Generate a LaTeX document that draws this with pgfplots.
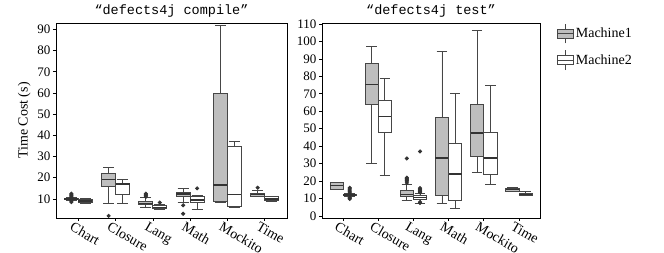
\documentclass[border=0pt]{standalone}
\usepackage{fontspec}
\setmainfont{Liberation Serif}
\newfontfamily\monofont{Liberation Mono}
\usepackage{pgfplots}
\pgfplotsset{compat=1.18}
\usepgfplotslibrary{statistics}
\definecolor{boxgray}{RGB}{190,190,190}
\definecolor{edge}{RGB}{70,70,70}
\pgfplotsset{
  m1/.style={draw=edge, fill=boxgray, line width=0.8pt, mark=*, mark size=1.6pt,
    mark options={draw=black!80, fill=black!80}, boxplot/draw direction=y, boxplot/box extend=0.375, boxplot/whisker extend=0.3},
  m2/.style={draw=edge, fill=white, line width=0.8pt, mark=*, mark size=1.6pt,
    mark options={draw=black!80, fill=black!80}, boxplot/draw direction=y, boxplot/box extend=0.375, boxplot/whisker extend=0.3},
  boxplot/every median/.style={line width=1.2pt, draw=black!80},
  myaxis/.style={
    scale only axis, height=195pt,
    xmin=0.4, xmax=6.6,
    xtick={1,2,3,4,5,6},
    xticklabels={Chart,Closure,Lang,Math,Mockito,Time},
    x tick label style={rotate=-30, anchor=north west, xshift=-7pt, yshift=1pt, font=\fontsize{14}{15}\selectfont},
    y tick label style={font=\fontsize{13}{14}\selectfont, xshift=1pt},
    tick align=outside, major tick length=3pt,
    xtick pos=bottom, ytick pos=left,
    axis line style={line width=0.8pt},
    tick style={line width=0.6pt, black},
    /pgf/number format/assume math mode=true,
    title style={font=\monofont\fontsize{13.5}{14}\selectfont, yshift=-4pt},
  },
}
\begin{document}
\begin{tikzpicture}
\useasboundingbox (-56pt,-34pt) rectangle (608pt,218pt);
\begin{axis}[myaxis, at={(0pt,0pt)}, anchor=south west, width=231pt,
  ymin=1, ymax=93, ytick={10,20,...,90},
  title={“defects4j compile”},
  ylabel={Time Cost (s)}, ylabel style={font=\fontsize{14}{15}\selectfont, yshift=0pt}]
% Chart
\addplot[m1, boxplot prepared={draw position=0.8125, lower whisker=9.5, lower quartile=9.7, median=10, upper quartile=10.3, upper whisker=10.5}] table[row sep=\\,y index=0] {8.5\\9\\9.2\\10.8\\11\\11.5\\12\\12.5\\};
\addplot[m2, boxplot prepared={draw position=1.1875, lower whisker=8, lower quartile=8.2, median=9, upper quartile=10, upper whisker=10.2}] coordinates {};
% Closure
\addplot[m1, boxplot prepared={draw position=1.8125, lower whisker=8, lower quartile=16, median=19, upper quartile=22, upper whisker=25}] table[row sep=\\,y index=0] {2\\};
\addplot[m2, boxplot prepared={draw position=2.1875, lower whisker=8, lower quartile=12, median=17, upper quartile=17.5, upper whisker=19}] coordinates {};
% Lang
\addplot[m1, boxplot prepared={draw position=2.8125, lower whisker=6.2, lower quartile=7.3, median=8, upper quartile=9, upper whisker=10.5}] table[row sep=\\,y index=0] {11\\11.5\\12\\12.5\\};
\addplot[m2, boxplot prepared={draw position=3.1875, lower whisker=5, lower quartile=5.3, median=6, upper quartile=7, upper whisker=7.5}] table[row sep=\\,y index=0] {8.3\\};
% Math
\addplot[m1, boxplot prepared={draw position=3.8125, lower whisker=8.3, lower quartile=11.4, median=12.3, upper quartile=13.1, upper whisker=15}] table[row sep=\\,y index=0] {7\\3\\};
\addplot[m2, boxplot prepared={draw position=4.1875, lower whisker=5.2, lower quartile=8.3, median=9.5, upper quartile=11.1, upper whisker=11.5}] table[row sep=\\,y index=0] {15\\};
% Mockito
\addplot[m1, boxplot prepared={draw position=4.8125, lower whisker=8.3, lower quartile=9, median=16.6, upper quartile=60, upper whisker=92}] coordinates {};
\addplot[m2, boxplot prepared={draw position=5.1875, lower whisker=6.2, lower quartile=6.4, median=12, upper quartile=35, upper whisker=37}] coordinates {};
% Time
\addplot[m1, boxplot prepared={draw position=5.8125, lower whisker=11, lower quartile=11.2, median=12, upper quartile=12.7, upper whisker=14.2}] table[row sep=\\,y index=0] {15.3\\};
\addplot[m2, boxplot prepared={draw position=6.1875, lower whisker=9, lower quartile=9.2, median=10, upper quartile=11, upper whisker=11.2}] coordinates {};
\end{axis}
\begin{axis}[myaxis, at={(266pt,0pt)}, anchor=south west, width=218pt,
  ymin=-1.1, ymax=110.5, ytick={0,10,...,110},
  title={“defects4j test”},
  legend style={at={(1.078,1.0)}, anchor=north west, draw=none, fill=none,
    font=\fontsize{14}{15}\selectfont, row sep=6pt, inner sep=0pt,
    nodes={inner sep=2pt}},
  legend cell align=left]
\addlegendimage{legend image code/.code={
  \draw[edge, line width=0.7pt] (0.28cm,-0.35cm) -- (0.28cm,0.35cm);
  \draw[edge, line width=0.7pt, fill=boxgray] (0cm,-0.16cm) rectangle (0.56cm,0.16cm);
  \draw[edge, line width=0.7pt] (0cm,0cm) -- (0.56cm,0cm);}}
\addlegendentry{Machine1}
\addlegendimage{legend image code/.code={
  \draw[edge, line width=0.7pt] (0.28cm,-0.35cm) -- (0.28cm,0.35cm);
  \draw[edge, line width=0.7pt, fill=white] (0cm,-0.16cm) rectangle (0.56cm,0.16cm);
  \draw[edge, line width=0.7pt] (0cm,0cm) -- (0.56cm,0cm);}}
\addlegendentry{Machine2}
% Chart
\addplot[m1, forget plot, boxplot prepared={draw position=0.8125, lower whisker=15, lower quartile=15.3, median=17.3, upper quartile=19, upper whisker=19.5}] coordinates {};
\addplot[m2, forget plot, boxplot prepared={draw position=1.1875, lower whisker=11.5, lower quartile=11.8, median=12.1, upper quartile=12.4, upper whisker=12.8}] table[row sep=\\,y index=0] {9.8\\10.2\\10.6\\13.2\\13.8\\14.4\\15\\15.6\\16.2\\};
% Closure
\addplot[m1, forget plot, boxplot prepared={draw position=1.8125, lower whisker=30.1, lower quartile=64.2, median=75.1, upper quartile=87.2, upper whisker=97}] coordinates {};
\addplot[m2, forget plot, boxplot prepared={draw position=2.1875, lower whisker=23.2, lower quartile=48.1, median=57.1, upper quartile=66.1, upper whisker=79}] coordinates {};
% Lang
\addplot[m1, forget plot, boxplot prepared={draw position=2.8125, lower whisker=9.2, lower quartile=11, median=12.5, upper quartile=14.5, upper whisker=18.2}] table[row sep=\\,y index=0] {19\\20\\20.5\\21\\21.5\\22\\33\\};
\addplot[m2, forget plot, boxplot prepared={draw position=3.1875, lower whisker=7, lower quartile=9.5, median=10.5, upper quartile=12, upper whisker=13}] table[row sep=\\,y index=0] {7.5\\8\\13.5\\14\\14.5\\15\\15.5\\16\\37\\};
% Math
\addplot[m1, forget plot, boxplot prepared={draw position=3.8125, lower whisker=7.3, lower quartile=12.1, median=33.2, upper quartile=56.2, upper whisker=94.1}] coordinates {};
\addplot[m2, forget plot, boxplot prepared={draw position=4.1875, lower whisker=4.2, lower quartile=9.2, median=24.1, upper quartile=41.8, upper whisker=70}] coordinates {};
% Mockito
\addplot[m1, forget plot, boxplot prepared={draw position=4.8125, lower whisker=25.1, lower quartile=34.1, median=47.5, upper quartile=63.8, upper whisker=106}] coordinates {};
\addplot[m2, forget plot, boxplot prepared={draw position=5.1875, lower whisker=18.2, lower quartile=24.1, median=33.2, upper quartile=48.1, upper whisker=74.9}] coordinates {};
% Time
\addplot[m1, forget plot, boxplot prepared={draw position=5.8125, lower whisker=14, lower quartile=14.3, median=15, upper quartile=15.8, upper whisker=16.2}] coordinates {};
\addplot[m2, forget plot, boxplot prepared={draw position=6.1875, lower whisker=11.6, lower quartile=12, median=12.5, upper quartile=13.2, upper whisker=14}] coordinates {};
\end{axis}
\end{tikzpicture}
\end{document}
